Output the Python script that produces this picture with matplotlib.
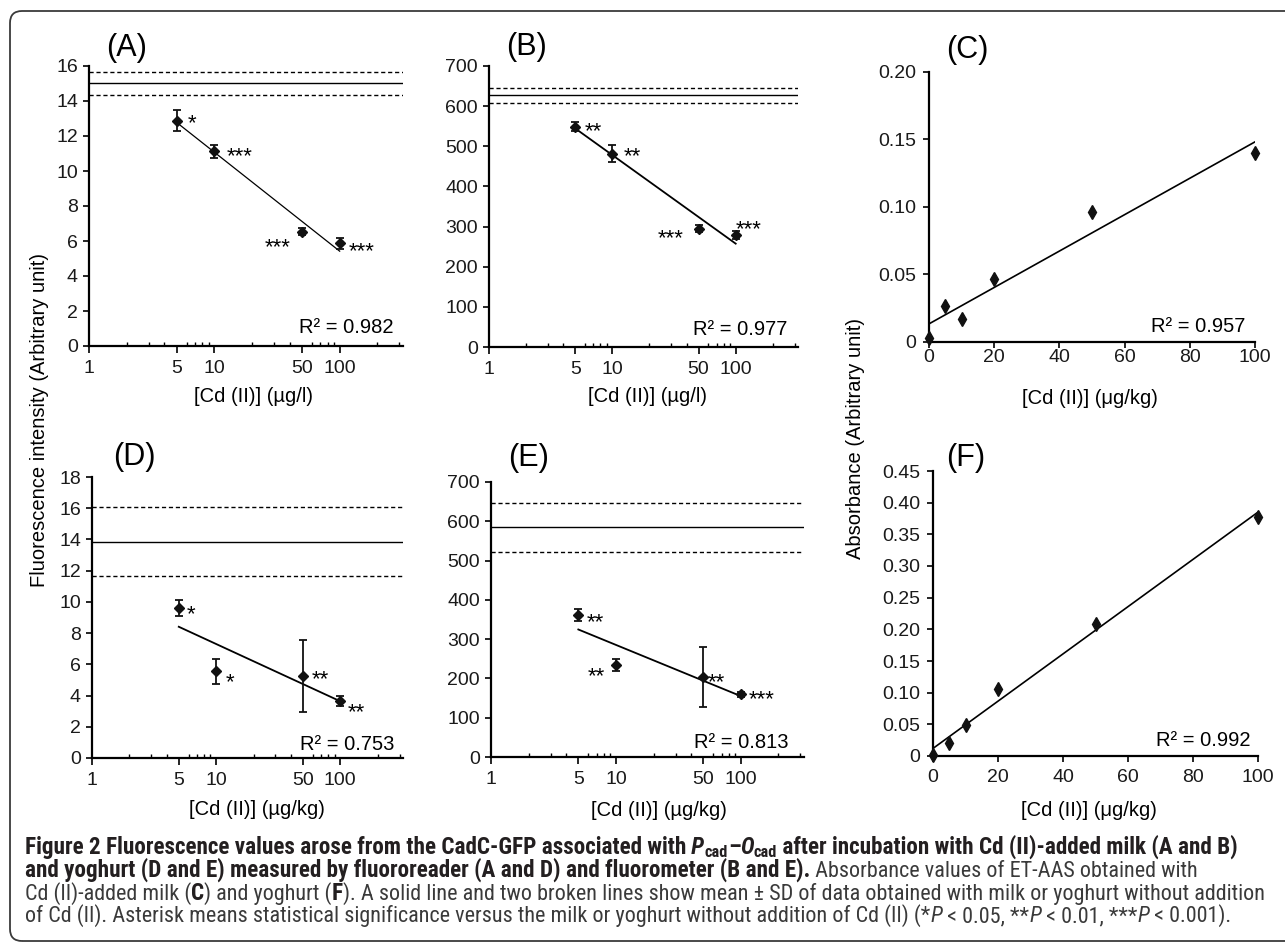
#  Cd (II) in milk / yoghurt: fluorescence and absorbance panels

import numpy as np
import matplotlib
matplotlib.use('Agg')
import matplotlib.pyplot as plt
from matplotlib.ticker import FixedLocator, FuncFormatter, NullFormatter
from matplotlib.patches import FancyBboxPatch
from matplotlib import font_manager

# ---- data ----
cd_fluo = [5, 10, 50, 100]          # ug/l or ug/kg, log axis panels
cd_aas = [0, 5, 10, 20, 50, 100]    # ug/kg, linear axis panels

a_mean = [12.88, 11.12, 6.52, 5.87]
a_sd = [0.6, 0.35, 0.2, 0.3]
a_stars = ['*', '***', '***', '***']
a_blank = (15.0, 0.68)    # mean, SD without Cd
a_r2 = '0.982'

b_mean = [549, 481, 295, 279]
b_sd = [12, 21, 8, 11]
b_stars = ['**', '**', '***', '***']
b_blank = (627, 18.5)
b_r2 = '0.977'

d_mean = [9.62, 5.57, 5.25, 3.64]
d_sd = [0.5, 0.8, 2.33, 0.3]
d_stars = ['*', '*', '**', '**']
d_blank = (13.85, 2.2)
d_r2 = '0.753'

e_mean = [362, 234, 203, 160]
e_sd = [16, 15, 76, 6]
e_stars = ['**', '**', '**', '***']
e_blank = (585, 62.5)
e_r2 = '0.813'

c_abs = [0.003, 0.027, 0.017, 0.047, 0.096, 0.140]
c_r2 = '0.957'
f_abs = [0.002, 0.020, 0.049, 0.106, 0.208, 0.377]
f_r2 = '0.992'

x_major = [1, 5, 10, 50, 100]
x_minor = [2, 3, 4, 6, 7, 8, 9, 20, 30, 40, 60, 70, 80, 90, 200, 300]

plt.rcParams['font.family'] = ['Liberation Sans', 'DejaVu Sans']

W, H = 1285, 943
fig = plt.figure(figsize=(W / 100, H / 100), dpi=100)


def fx(x):
    return x / W


def fy(y):
    return 1 - y / H


def add_box(left, top, right, bottom):
    ax = fig.add_axes([fx(left), fy(bottom), (right - left) / W, (bottom - top) / H])
    for s in ('top', 'right'):
        ax.spines[s].set_visible(False)
    for s in ('left', 'bottom'):
        ax.spines[s].set_linewidth(1.6)
    ax.tick_params(labelsize=14, width=1.2, labelcolor='#1a1a1a')
    ax.tick_params(axis='y', direction='out', length=4, pad=4)
    ax.patch.set_alpha(0)
    return ax


def put_xlabel(ax, text, cx, cy):
    bb = ax.get_position()
    ax.set_xlabel(text, fontsize=14.5)
    ax.xaxis.set_label_coords((fx(cx) - bb.x0) / bb.width, (fy(cy) - bb.y0) / bb.height)
    ax.xaxis.label.set_va('center')


def fluo_panel(ax, mean, sd, blank, stars, star_pos, y_max, y_step, fit_lw):
    ax.set_xscale('log')
    ax.axhline(blank[0], color='k', lw=1.0)
    ax.axhline(blank[0] + blank[1], color='k', lw=1.0, ls=(0, (3, 2)))
    ax.axhline(blank[0] - blank[1], color='k', lw=1.0, ls=(0, (3, 2)))
    ax.errorbar(cd_fluo, mean, yerr=sd, fmt='D', ms=5.5, color='#111', ecolor='#111',
                elinewidth=1.3, capsize=3, capthick=1.3, zorder=3)
    k, b0 = np.polyfit(np.log10(cd_fluo), mean, 1)  # 对数拟合
    xs = np.array([min(cd_fluo), max(cd_fluo)])
    ax.plot(xs, k * np.log10(xs) + b0, color='k', lw=fit_lw)
    for x, y, s, (dx, dy, ha) in zip(cd_fluo, mean, stars, star_pos):
        ax.annotate(s, (x, y), xytext=(dx, dy - 12.9), textcoords='offset pixels',
                    ha=ha, va='baseline', fontsize=16)
    ax.set_xlim(1, 320)
    ax.set_ylim(0, y_max)
    ax.set_yticks(np.arange(0, y_max + y_step / 2, y_step))
    ax.xaxis.set_major_locator(FixedLocator(x_major))
    ax.xaxis.set_major_formatter(FuncFormatter(lambda v, p: f'{v:g}'))
    ax.xaxis.set_minor_locator(FixedLocator(x_minor))
    ax.xaxis.set_minor_formatter(NullFormatter())
    ax.tick_params(axis='x', which='major', direction='out', length=5, pad=5)
    ax.tick_params(axis='x', which='minor', direction='in', length=3, width=1)


def abs_panel(ax, values, y_max, xpad):
    ax.plot(cd_aas, values, 'd', ms=7.5, color='#111', clip_on=False, zorder=3)
    k, b0 = np.polyfit(cd_aas, values, 1)
    xs = np.array([0, 100])
    ax.plot(xs, k * xs + b0, color='k', lw=1.2)
    ax.set_xlim(0, 100)
    ax.set_ylim(0, y_max)
    ax.set_xticks(range(0, 101, 20))
    ax.set_yticks(np.linspace(0, y_max, int(round(y_max / 0.05)) + 1))
    ax.yaxis.set_major_formatter(FuncFormatter(lambda v, p: '0' if abs(v) < 1e-9 else f'{v:.2f}'))
    ax.tick_params(axis='x', direction='out', length=4, pad=xpad)
    ax.tick_params(axis='y', pad=5)


# (A) milk, fluororeader
ax = add_box(89, 66, 403, 346)
fluo_panel(ax, a_mean, a_sd, a_blank, a_stars,
           [(15, 4.7, 'center'), (12, 2.3, 'left'), (-11, -8.3, 'right'), (9, -0.7, 'left')], 16, 2, 0.9)
put_xlabel(ax, '[Cd (II)] (µg/l)', 254, 396)

# (B) milk, fluorometer
ax = add_box(489, 66, 798, 347)
fluo_panel(ax, b_mean, b_sd, b_blank, b_stars,
           [(9, 2.7, 'left'), (11, 5, 'left'), (-15, -2.3, 'right'), (0, 12.3, 'left')], 700, 100, 1.3)
put_xlabel(ax, '[Cd (II)] (µg/l)', 647, 397)

# (C) milk, ET-AAS
ax = add_box(929, 72, 1255, 342)
abs_panel(ax, c_abs, 0.20, 1)
put_xlabel(ax, '[Cd (II)] (μg/kg)', 1090, 399)

# (D) yoghurt, fluororeader
ax = add_box(92, 477, 403, 758)
fluo_panel(ax, d_mean, d_sd, d_blank, d_stars,
           [(12.4, 0.6, 'center'), (13.6, -4, 'center'), (8.4, 4, 'left'), (7.4, -4, 'left')], 18, 2, 1.3)
put_xlabel(ax, '[Cd (II)] (µg/kg)', 257, 809.5)

# (E) yoghurt, fluorometer
ax = add_box(491, 482, 804, 757)
fluo_panel(ax, e_mean, e_sd, e_blank, e_stars,
           [(8, -1, 'left'), (-11, -4.3, 'right'), (4.6, 2.3, 'left'), (7.6, 2, 'left')], 700, 100, 1.3)
put_xlabel(ax, '[Cd (II)] (µg/kg)', 659, 810)

# (F) yoghurt, ET-AAS
ax = add_box(933, 471, 1258, 756)
abs_panel(ax, f_abs, 0.45, 5)
put_xlabel(ax, '[Cd (II)] (μg/kg)', 1089, 811)

# R² labels, panel letters, shared y labels
for r2, rx, ry in [(a_r2, 393, 333), (b_r2, 787, 335), (c_r2, 1245, 332),
                   (d_r2, 394, 750), (e_r2, 789, 748), (f_r2, 1251, 746.5)]:
    fig.text(fx(rx), fy(ry), 'R² = ' + r2, ha='right', va='baseline', fontsize=14.5)

for lab, cx, cy in [('(A)', 126.5, 48), ('(B)', 527, 47.5), ('(C)', 967.5, 50),
                    ('(D)', 134, 457), ('(E)', 529, 457.5), ('(F)', 966, 457.5)]:
    fig.text(fx(cx), fy(cy), lab, ha='center', va='center', fontsize=22)

fig.text(fx(40), fy(420), 'Fluorescence intensity (Arbitrary unit)', rotation=90,
         ha='center', va='center', fontsize=14.5)
fig.text(fx(855.5), fy(438.5), 'Absorbance (Arbitrary unit)', rotation=90,
         ha='center', va='center', fontsize=14.5)

# rounded frame (right side runs off the picture)
frame = FancyBboxPatch((0.10, 0.02), 13.5, 9.30, boxstyle='round,pad=0,rounding_size=0.12',
                       transform=fig.dpi_scale_trans, fill=False, ec='#3a3a3a', lw=1.3)
fig.add_artist(frame)


# ---- caption ----
def has_font(name):
    try:
        font_manager.findfont(font_manager.FontProperties(family=name), fallback_to_default=False)
        return True
    except ValueError:
        return False


cap_family = next((f for f in ['Liberation Sans Narrow', 'Roboto Condensed', 'Liberation Sans']
                   if has_font(f)), 'DejaVu Sans')

line1 = [("Figure 2 Fluorescence values arose from the CadC-GFP associated with", 'b'),
         (" P", 'bi'), ("cad", 'bs'), ("–", 'b'), ("O", 'bi'), ("cad", 'bs'),
         (" after incubation with Cd (II)-added milk (A and B)", 'b')]
line2 = [("and yoghurt (D and E) measured by fluororeader (A and D) and fluorometer (B and E).", 'b'),
         (" Absorbance values of ET-AAS obtained with", '')]
line3 = [("Cd (II)-added milk (", ''), ("C", 'b'), (") and yoghurt (", ''), ("F", 'b'),
         ("). A solid line and two broken lines show mean ± SD of data obtained with milk or yoghurt without addition", '')]
line4 = [("of Cd (II). Asterisk means statistical significance versus the milk or yoghurt without addition of Cd (II) (*", ''),
         ("P", 'i'), (" < 0.05, **", ''), ("P", 'i'), (" < 0.01, ***", ''), ("P", 'i'), (" < 0.001).", '')]

renderer = fig.canvas.get_renderer()


def draw_line(y, segs, size_b, size_r, x0=25):
    x = x0
    out = []
    for s, st in segs:
        size = size_b if 'b' in st else size_r
        dy = 0
        if 's' in st:
            size *= 0.7
            dy = 3
        t = fig.text(fx(x), fy(y + dy), s, fontsize=size, family=[cap_family, 'DejaVu Sans'],
                     fontweight='bold' if 'b' in st else 'normal',
                     fontstyle='italic' if 'i' in st else 'normal',
                     color='#231f20' if 'b' in st else '#3a3a3a', va='baseline', ha='left')
        x += t.get_window_extent(renderer).width
        out.append(t)
    return out, x - x0


# fit the caption widths to the picture
texts, w1 = draw_line(854, line1, 10, 10)
for t in texts:
    t.remove()
size_b = 10 * 1214 / w1
texts, w3 = draw_line(899.5, line3, size_b, 10)
for t in texts:
    t.remove()
size_r = 10 * 1247 / w3

draw_line(854, line1, size_b, size_r)
draw_line(877, line2, size_b, size_r)
draw_line(899.5, line3, size_b, size_r)
draw_line(922, line4, size_b, size_r)

fig.savefig('out.png', dpi=100)
